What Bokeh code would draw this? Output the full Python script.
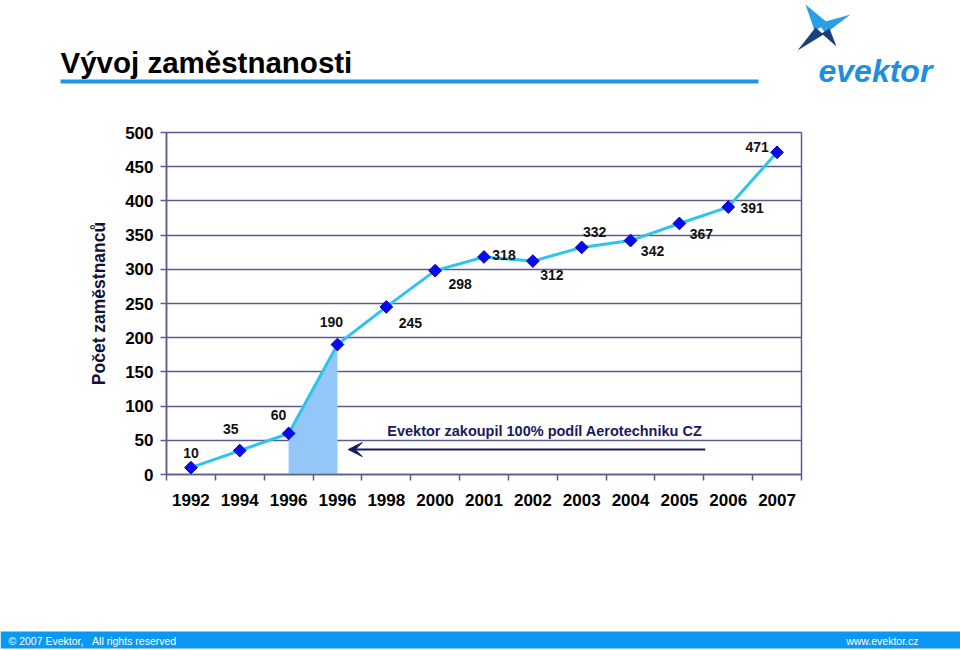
import numpy as np
from bokeh.plotting import figure
from bokeh.models import Range1d, FixedTicker, Arrow, VeeHead, Label, ColumnDataSource
from bokeh.layouts import column, row
from bokeh.core.properties import value
from bokeh.embed import file_html
from bokeh.resources import INLINE

# ---------------- data ----------------
years = ["1992", "1994", "1996", "1996", "1998", "2000", "2001",
         "2002", "2003", "2004", "2005", "2006", "2007"]
employees = [10, 35, 60, 190, 245, 298, 318, 312, 332, 342, 367, 391, 471]
y_ticks = [0, 50, 100, 150, 200, 250, 300, 350, 400, 450, 500]
acquisition_from, acquisition_to = 2, 3   # indices of the shaded step
title_text = "Vývoj zaměstnanosti"
y_title = "Počet zaměstnanců"
note_text = "Evektor zakoupil 100% podíl Aerotechniku CZ"
footer_left = "© 2007 Evektor,\u00a0\u00a0\u00a0All rights reserved"
footer_right = "www.evektor.cz"

# label offsets in pixels (style only)
label_dx = [0, -9, -10, -6, 24, 25, 20, 19, 13, 22, 22, 24, -20]
label_dy = [-15, -22, -18, -23, 16, 13, -2, 14, -15, 10, 11, 1, -5]

FONT = "Liberation Sans"
GRID = "#5B5B8E"
NAVY = "#1A1A5E"
W = 960

xs = [i + 0.5 for i in range(len(years))]


def blank(height, y0, y1, bg="#FFFFFF"):
    f = figure(width=W, height=height, x_range=Range1d(0, W), y_range=Range1d(y1, y0),
               output_backend="svg", toolbar_location=None,
               x_axis_location=None, y_axis_location=None,
               min_border=0, outline_line_color=None,
               background_fill_color=bg, border_fill_color=bg)
    f.grid.visible = False
    return f


# ---------------- header ----------------
hdr = blank(124, 0, 124)
hdr.text(x=[60], y=[62], text=[title_text], text_font=value(FONT), text_font_style="bold",
         text_font_size="29.5px", text_color="#000000", text_baseline="middle")
hdr.quad(left=[60], right=[758], top=[79], bottom=[83], fill_color="#1E96E8", line_color=None)
hdr.patches(xs=[[805, 828, 814], [850, 818, 825]],
            ys=[[4, 23, 30], [14, 23, 33]],
            fill_color="#2B9FE6", line_color=None)
hdr.patches(xs=[[797, 815, 823], [836, 821, 829]],
            ys=[[50, 27, 34], [46, 33, 28]],
            fill_color="#1A3F7A", line_color=None)
hdr.text(x=[818], y=[70], text=["evektor"], text_font=value(FONT), text_font_style="bold italic",
         text_font_size="32px", text_color="#1E8FDB", text_baseline="middle")

# ---------------- main chart ----------------
p = figure(width=W, height=500, x_range=Range1d(0, len(years)), y_range=Range1d(0, 500),
           output_backend="svg", toolbar_location=None,
           min_border_left=166, min_border_right=159, min_border_top=8, min_border_bottom=150)
p.outline_line_color = GRID
p.outline_line_width = 1.5
p.xgrid.visible = False
p.ygrid.ticker = FixedTicker(ticks=y_ticks)
p.ygrid.grid_line_color = GRID
p.ygrid.grid_line_width = 1.5

p.yaxis.ticker = FixedTicker(ticks=y_ticks)
p.yaxis.axis_line_color = GRID
p.yaxis.axis_line_width = 1.5
p.yaxis.major_tick_line_color = GRID
p.yaxis.major_tick_line_width = 1.5
p.yaxis.major_tick_out = 6
p.yaxis.major_tick_in = 0
p.yaxis.minor_tick_line_color = None
p.yaxis.major_label_standoff = 7
p.yaxis.major_label_text_font = FONT
p.yaxis.major_label_text_font_style = "bold"
p.yaxis.major_label_text_font_size = "17px"
p.yaxis.major_label_text_color = "#000000"
p.yaxis.axis_label = y_title
p.yaxis.axis_label_text_font = FONT
p.yaxis.axis_label_text_font_style = "bold"
p.yaxis.axis_label_text_font_size = "17.5px"
p.yaxis.axis_label_text_color = "#111133"
p.yaxis.axis_label_standoff = 13

p.xaxis.ticker = FixedTicker(ticks=xs, minor_ticks=list(range(len(years) + 1)))
p.xaxis.major_label_overrides = {x: y for x, y in zip(xs, years)}
p.xaxis.axis_line_color = GRID
p.xaxis.axis_line_width = 1.5
p.xaxis.major_tick_line_color = None
p.xaxis.major_tick_out = 0
p.xaxis.major_tick_in = 0
p.xaxis.minor_tick_line_color = GRID
p.xaxis.minor_tick_line_width = 1.5
p.xaxis.minor_tick_out = 6
p.xaxis.minor_tick_in = 0
p.xaxis.major_label_standoff = 13
p.xaxis.major_label_text_font = FONT
p.xaxis.major_label_text_font_style = "bold"
p.xaxis.major_label_text_font_size = "17px"
p.xaxis.major_label_text_color = "#000000"

p.varea(x=[xs[acquisition_from], xs[acquisition_to]], y1=[0, 0],
        y2=[employees[acquisition_from], employees[acquisition_to]],
        fill_color="#94C6F7")

src = ColumnDataSource(dict(x=xs, y=employees, lbl=[str(v) for v in employees],
                            dx=label_dx, dy=label_dy))
p.line("x", "y", source=src, line_color="#2EC5EA", line_width=3)
p.scatter("x", "y", source=src, marker="square", angle=np.pi / 4, size=9,
          fill_color="#0A0AF0", line_color="#0000B0")
p.text("x", "y", text="lbl", source=src, x_offset="dx", y_offset="dy",
       text_align="center", text_baseline="middle", text_font=value(FONT),
       text_font_style="bold", text_font_size="14px", text_color="#111111")

p.add_layout(Arrow(end=VeeHead(size=14, fill_color=NAVY, line_color=NAVY),
                   x_start=11.03, y_start=36.5, x_end=3.72, y_end=36.5,
                   line_color=NAVY, line_width=2))
p.add_layout(Label(x=4.52, y=64, text=note_text, text_font=FONT, text_font_style="bold",
                   text_font_size="14.5px", text_color=NAVY, text_baseline="middle"))

# ---------------- footer ----------------
ftr = blank(26, 624, 650)
ftr.quad(left=[0], right=[W], top=[631], bottom=[648], fill_color="#0A98F2", line_color=None)
ftr.text(x=[8], y=[640], text=[footer_left], text_font=value(FONT),
         text_font_size="10.5px", text_color="#FFFFFF", text_baseline="middle")
ftr.text(x=[918], y=[640], text=[footer_right], text_font=value(FONT),
         text_font_size="10.5px", text_color="#FFFFFF", text_baseline="middle", text_align="right")

layout = column(row(hdr), p, row(ftr), spacing=0)
open("out.html", "w").write(file_html(layout, INLINE))
